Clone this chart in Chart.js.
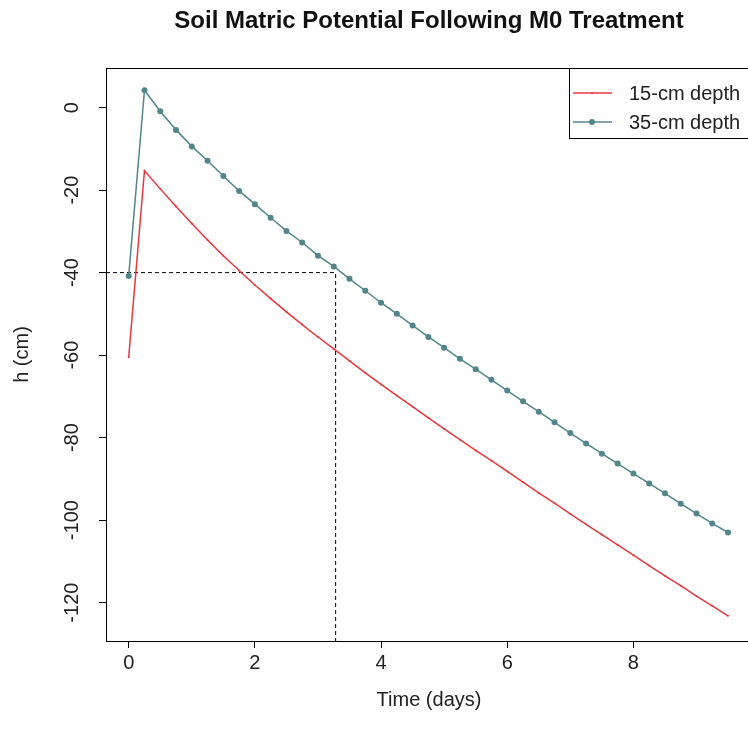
<!DOCTYPE html>
<html lang="en">
<head>
<meta charset="UTF-8" />
<title>Soil Matric Potential Following M0 Treatment</title>
<script src="https://cdn.jsdelivr.net/npm/chart.js"></script>
<style>
  html, body { margin: 0; padding: 0; background: #fff; overflow: hidden; }
  /* canvas is a little wider than the window: the plot box's right edge falls outside, as in the original */
  #wrap { width: 748px; height: 744px; overflow: hidden; }
  #potentialChart { display: block; }
</style>
</head>
<body>
<div id="wrap"><canvas id="potentialChart" width="752" height="744"></canvas></div>
<script>
// sampling times (days) and readings (cm) off the figure
const days = [0, 0.25, 0.5, 0.75, 1, 1.25, 1.5, 1.75, 2, 2.25, 2.5, 2.75, 3, 3.25,
  3.5, 3.75, 4, 4.25, 4.5, 4.75, 5, 5.25, 5.5, 5.75, 6, 6.25, 6.5, 6.75, 7, 7.25,
  7.5, 7.75, 8, 8.25, 8.5, 8.75, 9, 9.25, 9.5];
const depth15 = [-60.5, -15.3, -19.7, -24.0, -28.1, -32.1, -35.9, -39.5, -43.0, -46.3,
  -49.5, -52.6, -55.6, -58.5, -61.4, -64.3, -67.1, -69.8, -72.5, -75.2, -77.9, -80.5,
  -83.1, -85.6, -88.2, -90.8, -93.4, -95.9, -98.5, -101.0, -103.5, -106.0, -108.5,
  -111.0, -113.5, -115.9, -118.4, -120.8, -123.2];
const depth35 = [-40.8, 4.2, -0.9, -5.4, -9.4, -12.9, -16.6, -20.2, -23.4, -26.7,
  -29.9, -32.7, -35.9, -38.5, -41.5, -44.4, -47.3, -50.0, -52.8, -55.6, -58.2, -60.9,
  -63.4, -66.0, -68.6, -71.2, -73.7, -76.3, -78.9, -81.4, -83.9, -86.3, -88.7, -91.1,
  -93.5, -96.0, -98.4, -100.8, -103.0];
const seriesNames = ["15-cm depth", "35-cm depth"];
const xTicks = [0, 2, 4, 6, 8];
const yTicks = [-120, -100, -80, -60, -40, -20, 0];
const xRange = [-0.36, 9.88];
const yRange = [-129.3, 9.6];
// dashed guide: 35-cm curve reaching -40 cm
const crossTime = 3.28;
const crossHead = -40;

const FONT = "'Liberation Sans', Arial, sans-serif";
const RED = "#e5383e";
const TEAL = "#53868b";

const pairs = (ys) => days.map((d, i) => ({ x: d, y: ys[i] }));

// box round the plot region, like R's bty="o"
const frame = {
  id: "frame",
  afterDatasetsDraw(chart) {
    const { ctx, chartArea: a } = chart;
    ctx.save();
    ctx.strokeStyle = "#000";
    ctx.lineWidth = 1;
    ctx.strokeRect(a.left + 0.5, a.top + 0.5, a.right - a.left, a.bottom - a.top);
    ctx.restore();
  },
};

const mainTitle = {
  id: "mainTitle",
  afterDraw(chart) {
    const { ctx, chartArea: a } = chart;
    ctx.save();
    ctx.fillStyle = "#111";
    ctx.font = "bold 24px " + FONT;
    ctx.textAlign = "center";
    ctx.textBaseline = "middle";
    ctx.fillText("Soil Matric Potential Following M0 Treatment", (a.left + a.right) / 2, 21);
    ctx.restore();
  },
};

const boxLegend = {
  id: "boxLegend",
  afterDraw(chart) {
    const { ctx, chartArea: a } = chart;
    const w = 183, h = 70;
    const x0 = a.right - w, y0 = a.top;
    ctx.save();
    ctx.fillStyle = "#fff";
    ctx.fillRect(x0, y0, w, h);
    ctx.strokeStyle = "#000";
    ctx.lineWidth = 1;
    ctx.strokeRect(x0 + 0.5, y0 + 0.5, w, h);
    chart.data.datasets.slice(0, 2).forEach((ds, i) => {
      const y = y0 + 25 + i * 29;
      ctx.strokeStyle = ds.borderColor;
      ctx.lineWidth = 1.5;
      ctx.beginPath();
      ctx.moveTo(x0 + 4, y);
      ctx.lineTo(x0 + 43, y);
      ctx.stroke();
      ctx.fillStyle = ds.borderColor;
      ctx.beginPath();
      ctx.arc(x0 + 23, y, ds.pointRadius, 0, Math.PI * 2);
      ctx.fill();
      ctx.fillStyle = "#222";
      ctx.font = "20px " + FONT;
      ctx.textAlign = "left";
      ctx.textBaseline = "middle";
      ctx.fillText(ds.label, x0 + 60, y + 1);
    });
    ctx.restore();
  },
};

new Chart(document.getElementById("potentialChart"), {
  type: "line",
  data: {
    datasets: [
      {
        label: seriesNames[0],
        data: pairs(depth15),
        borderColor: RED,
        backgroundColor: RED,
        borderWidth: 1.5,
        pointRadius: 1,
        pointBorderWidth: 0,
        tension: 0,
      },
      {
        label: seriesNames[1],
        data: pairs(depth35),
        borderColor: TEAL,
        backgroundColor: TEAL,
        borderWidth: 1.5,
        pointRadius: 3,
        pointBorderWidth: 0,
        tension: 0,
      },
      {
        label: "guide",
        data: [
          { x: xRange[0], y: crossHead },
          { x: crossTime, y: crossHead },
          { x: crossTime, y: yRange[0] },
        ],
        borderColor: "#000",
        borderWidth: 1,
        borderDash: [4, 3],
        pointRadius: 0,
        tension: 0,
      },
    ],
  },
  options: {
    responsive: false,
    animation: false,
    layout: { autoPadding: false, padding: { top: 68, left: 0, right: 0, bottom: 0 } },
    plugins: {
      legend: { display: false },
      tooltip: { enabled: false },
    },
    scales: {
      x: {
        type: "linear",
        min: xRange[0],
        max: xRange[1],
        afterBuildTicks: (s) => { s.ticks = xTicks.map((v) => ({ value: v })); },
        afterFit: (s) => {
          s.height = 103;
          s.paddingLeft = 0;
          s.paddingRight = 0;
        },
        border: { display: false },
        grid: { drawOnChartArea: false, drawTicks: true, tickLength: 7, color: "#000" },
        ticks: { font: { size: 20, family: FONT }, color: "#222", padding: 3, maxRotation: 0, minRotation: 0 },
        title: { display: true, text: "Time (days)", font: { size: 20, family: FONT }, color: "#222", padding: { bottom: 32 } },
      },
      y: {
        type: "linear",
        min: yRange[0],
        max: yRange[1],
        afterBuildTicks: (s) => { s.ticks = yTicks.map((v) => ({ value: v })); },
        afterFit: (s) => { s.width = 106; },
        border: { display: false },
        grid: { drawOnChartArea: false, drawTicks: true, tickLength: 7, color: "#000" },
        ticks: { font: { size: 20, family: FONT }, color: "#222", padding: 7, minRotation: 90, maxRotation: 90, crossAlign: "center" },
        title: { display: true, text: "h (cm)", font: { size: 20, family: FONT }, color: "#222", padding: { top: 10 } },
      },
    },
  },
  plugins: [frame, mainTitle, boxLegend],
});
</script>
</body>
</html>
